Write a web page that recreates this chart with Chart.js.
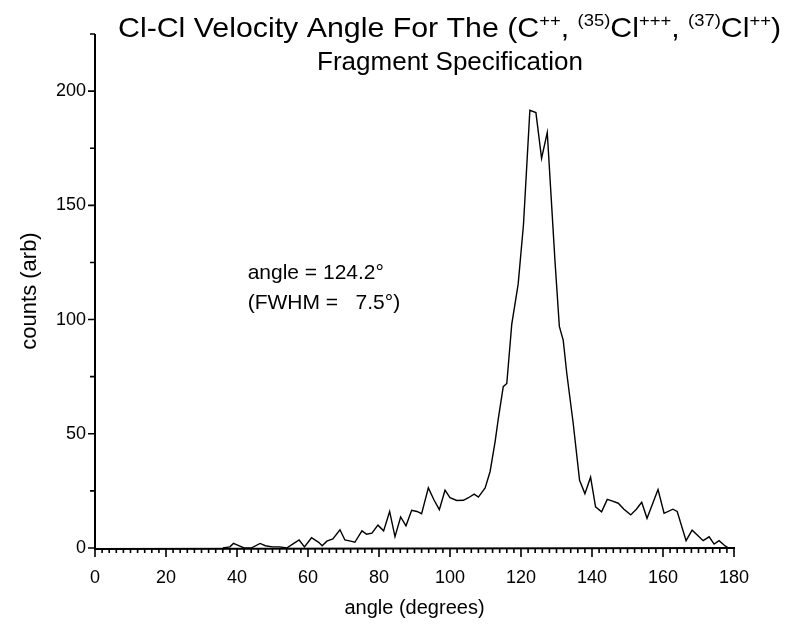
<!DOCTYPE html>
<html><head><meta charset="utf-8">
<script src="https://cdn.jsdelivr.net/npm/chart.js@4/dist/chart.umd.min.js"></script>
<style>html,body{margin:0;padding:0;background:#fff;}</style>
</head><body>
<canvas id="c" width="787" height="627"></canvas>
<script>
// ---- data ----
const angles = [36, 38, 39, 40.5, 42, 44, 46.5, 48, 50, 52, 54, 56, 57.5, 59, 61, 63, 64, 65.3, 67, 69, 70.4, 72, 73.2, 75.2, 76.5, 78, 79.7, 81.3, 83, 84.5, 86.1, 87.6, 89.2, 90.7, 92, 93.9, 95.5, 97, 98.6, 100, 101.9, 103.8, 105.2, 106.8, 108, 109.9, 111.3, 112.7, 113.6, 115, 116, 117.4, 119.2, 120.7, 122.5, 124.2, 125.8, 127.4, 128.4, 129.6, 130.8, 131.9, 132.9, 134.7, 136.5, 138, 139.6, 141, 142.7, 144.3, 145.8, 147.4, 149, 150.9, 152.5, 154, 155.5, 158.6, 160.3, 162.8, 164, 166.5, 168.2, 169.8, 171.3, 173, 174.4, 175.8, 177.5, 178.5];
const counts = [0, 0.5, 2, 1, 0, 0, 2, 1, 0.5, 0.5, 0, 2, 3.5, 0.5, 4.5, 2.5, 1, 3, 4, 8, 3.5, 3, 2.5, 7.5, 6, 6.5, 10, 7.5, 16, 5, 13.6, 9.7, 16.5, 16, 15, 26.3, 21, 16.8, 25.3, 22, 20.8, 20.9, 22, 23.6, 22.3, 26.3, 33.5, 46.5, 56.5, 70.6, 72, 98, 115.5, 141.6, 191.6, 190.6, 170.6, 181.9, 156, 125, 97, 90.9, 76.4, 54.6, 29.6, 23.8, 31, 18, 15.8, 21.3, 20.5, 19.6, 17, 14.5, 17, 20, 13, 25.6, 15.2, 17, 16, 3.2, 7.8, 5.5, 3.2, 4.9, 1.7, 3.2, 0.9, 0];
const xTickLabels = ['0', '20', '40', '60', '80', '100', '120', '140', '160', '180'];
const yTickLabels = ['0', '50', '100', '150', '200'];
const titleLine1 = [
  {t: 'Cl-Cl Velocity Angle For The (C'}, {t: '++', sup: true}, {t: ', '},
  {t: '(35)', sup: true}, {t: 'Cl'}, {t: '+++', sup: true}, {t: ', '},
  {t: '(37)', sup: true}, {t: 'Cl'}, {t: '++', sup: true}, {t: ')'}
];
const titleLine2 = 'Fragment Specification';
const noteLines = ['angle = 124.2\u00B0', '(FWHM =   7.5\u00B0)'];
const notePos = {x: 43, y: 121}; // in data units

const FONT = '"Liberation Sans", Arial, sans-serif';

const decor = {
  id: 'decor',
  afterDraw(chart) {
    const ctx = chart.ctx;
    const xs = chart.scales.x, ys = chart.scales.y;
    const x0 = xs.getPixelForValue(0), x1 = xs.getPixelForValue(180);
    const yb = ys.getPixelForValue(0), yt = ys.getPixelForValue(225);
    ctx.save();
    ctx.strokeStyle = '#000';
    ctx.lineWidth = 2;
    ctx.beginPath();
    ctx.moveTo(x0, yt); ctx.lineTo(x0, yb + 1); ctx.lineTo(x1 + 1, yb);
    ctx.stroke();
    ctx.lineWidth = 1.6;
    ctx.beginPath();
    xs.ticks.forEach(t => {
      const p = xs.getPixelForValue(t.value);
      const major = xTickLabels.includes(String(t.value));
      ctx.moveTo(p, yb); ctx.lineTo(p, yb + (major ? 9 : 5));
    });
    ys.ticks.forEach(t => {
      const p = ys.getPixelForValue(t.value);
      const major = yTickLabels.includes(String(t.value));
      ctx.moveTo(x0, p); ctx.lineTo(x0 - (major ? 7 : 5), p);
    });
    ctx.stroke();

    // title
    ctx.fillStyle = '#000';
    ctx.textBaseline = 'alphabetic';
    const big = '28px ' + FONT, small = '17px ' + FONT;
    let w = 0;
    titleLine1.forEach(s => { ctx.font = s.sup ? small : big; w += ctx.measureText(s.t).width; });
    const left = 118, target = 663;
    ctx.save();
    ctx.translate(left, 0);
    ctx.scale(target / w, 1);
    let x = 0;
    titleLine1.forEach(s => {
      ctx.font = s.sup ? small : big;
      ctx.textAlign = 'left';
      ctx.fillText(s.t, x, s.sup ? 26 : 37);
      x += ctx.measureText(s.t).width;
    });
    ctx.restore();
    ctx.font = '26px ' + FONT; ctx.textAlign = 'center';
    ctx.fillText(titleLine2, 450, 70);

    // annotation
    ctx.font = '21px ' + FONT; ctx.textAlign = 'left';
    const ax = xs.getPixelForValue(notePos.x), ay = ys.getPixelForValue(notePos.y);
    ctx.fillText(noteLines[0], ax, ay + 7);
    ctx.fillText(noteLines[1], ax, ay + 37);
    ctx.restore();
  }
};

new Chart(document.getElementById('c'), {
  type: 'line',
  data: {
    datasets: [{
      data: angles.map((a, i) => ({x: a, y: counts[i]})),
      borderColor: '#000', borderWidth: 1.4, pointRadius: 0, tension: 0, fill: false
    }]
  },
  options: {
    responsive: false, animation: false, devicePixelRatio: 1,
    layout: {padding: {left: 0, right: 53, top: 34, bottom: 0}},
    plugins: {legend: {display: false}, tooltip: {enabled: false}, title: {display: false}},
    scales: {
      x: {
        type: 'linear', min: 0, max: 180,
        grid: {display: false, drawTicks: false}, border: {display: false},
        ticks: {stepSize: 2, autoSkip: false, maxRotation: 0, padding: 19, color: '#000',
          font: {family: FONT, size: 18},
          callback: v => xTickLabels.includes(String(v)) ? String(v) : ''},
        title: {display: true, text: 'angle (degrees)', color: '#000', font: {family: FONT, size: 20}, padding: {top: 0, bottom: 7}},
        afterFit: s => { s.height = 79; }
      },
      y: {
        type: 'linear', min: 0, max: 225,
        grid: {display: false, drawTicks: false}, border: {display: false},
        ticks: {stepSize: 25, padding: 9, color: '#000', font: {family: FONT, size: 18},
          callback: v => yTickLabels.includes(String(v)) ? String(v) : ''},
        title: {display: true, text: 'counts (arb)', color: '#000', font: {family: FONT, size: 22}, padding: {top: 17, bottom: 0}},
        afterFit: s => { s.width = 95; }
      }
    }
  },
  plugins: [decor]
});
</script>
</body></html>
